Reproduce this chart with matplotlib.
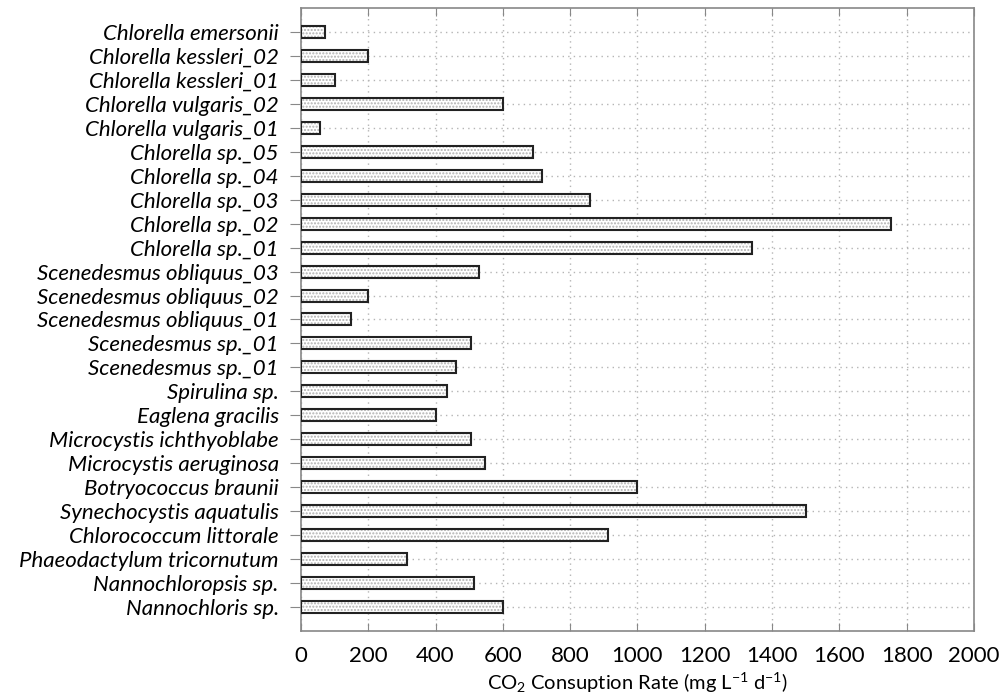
import matplotlib
matplotlib.use("Agg")
import matplotlib.pyplot as plt
import numpy as np

species = [
    "Chlorella emersonii", "Chlorella kessleri_02", "Chlorella kessleri_01",
    "Chlorella vulgaris_02", "Chlorella vulgaris_01", "Chlorella sp._05",
    "Chlorella sp._04", "Chlorella sp._03", "Chlorella sp._02", "Chlorella sp._01",
    "Scenedesmus obliquus_03", "Scenedesmus obliquus_02", "Scenedesmus obliquus_01",
    "Scenedesmus sp._01", "Scenedesmus sp._01", "Spirulina sp.", "Eaglena gracilis",
    "Microcystis ichthyoblabe", "Microcystis aeruginosa", "Botryococcus braunii",
    "Synechocystis aquatulis", "Chlorococcum littorale", "Phaeodactylum tricornutum",
    "Nannochloropsis sp.", "Nannochloris sp.",
]
rates = [
    70, 200, 100, 600, 57, 690, 717, 860, 1755, 1340,
    530, 200, 150, 506, 462, 434, 400, 506, 548, 1000,
    1500, 913, 315, 515, 600,
]
xticks = [0, 200, 400, 600, 800, 1000, 1200, 1400, 1600, 1800, 2000]

plt.rcParams['font.family'] = ['Lato', 'DejaVu Sans']
plt.rcParams['mathtext.fontset'] = 'custom'
plt.rcParams['mathtext.rm'] = 'Lato'
plt.rcParams['mathtext.it'] = 'Lato:italic'

fig = plt.figure(figsize=(10.04, 7.0), dpi=100)
ax = fig.add_axes([0.2998, 0.0986, 0.6702, 0.8900])

y = np.arange(len(species))
ax.barh(y, rates, height=0.5, color='white', edgecolor='#b0b0b0',
        hatch='.....', linewidth=0, zorder=2)
ax.barh(y, rates, height=0.5, fill=False, edgecolor='#222222',
        linewidth=1.5, zorder=3)

ax.set_ylim(len(species), -1)
ax.set_xlim(0, 2000)
ax.set_xticks(xticks)
ax.set_xticklabels([str(t) for t in xticks], fontsize=16)
ax.set_yticks(y)
ax.set_yticklabels(species, fontsize=16, style='italic')

ax.grid(True, linestyle=(0, (1, 3)), color='#b5b5b5', linewidth=1.0, zorder=0)
ax.set_axisbelow(True)

ax.tick_params(axis='x', direction='in', top=True, length=6, color='#888888', pad=11)
ax.tick_params(axis='y', direction='out', length=8, color='#888888', pad=8)
for s in ax.spines.values():
    s.set_color('#888888')
    s.set_linewidth(1.2)

ax.set_xlabel('CO$_2$ Consuption Rate (mg L$^{-1}$ d$^{-1}$)', fontsize=14.5, labelpad=3)

fig.savefig('out.png', dpi=100)
